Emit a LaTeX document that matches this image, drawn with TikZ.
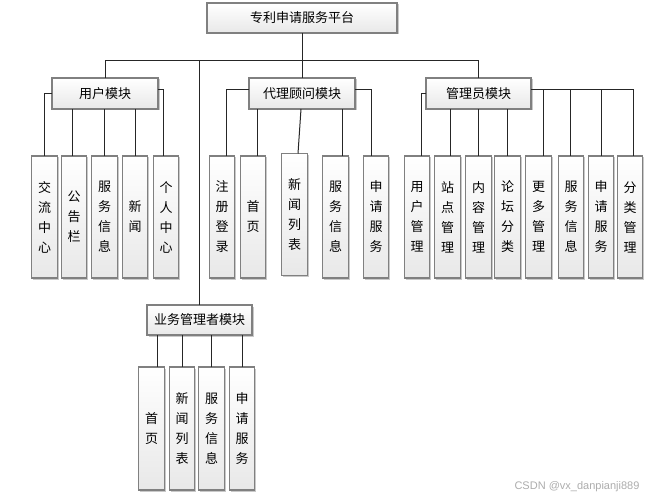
\documentclass[tikz,border=0pt]{standalone}
\usepackage{fontspec}
\newfontfamily\cjk{Noto Sans CJK SC}
\setsansfont{Liberation Sans}
\usetikzlibrary{shadows}
\begin{document}
\begin{tikzpicture}[x=1pt,y=-1pt,
  box/.style={draw=black!50, line width=1.2pt, top color=white, bottom color=black!9,
    drop shadow={shadow xshift=1.5pt,shadow yshift=-1.5pt,opacity=0.35,fill=black!60},
    inner sep=0pt, outer sep=0pt},
  hbox/.style={box, minimum width=#1, minimum height=31pt, font=\cjk\fontsize{13}{15}\selectfont},
  vbox/.style={box, minimum width=25.5pt, minimum height=122pt, align=center,
    font=\cjk\fontsize{13}{20}\selectfont},
  link/.style={draw=black!85, line width=1pt}]
\useasboundingbox[fill=white] (0,0) rectangle (656,500);

% parents
\node[hbox=190pt, minimum height=30pt] (top) at (302,18) {专利申请服务平台};
\node[hbox=106pt] (u) at (105,93.5) {用户模块};
\node[hbox=106pt] (a) at (302,93.5) {代理顾问模块};
\node[hbox=105pt] (m) at (478.5,93.5) {管理员模块};
\node[hbox=105pt, minimum height=30pt] (b) at (199.5,320) {业务管理者模块};

% user children
\node[vbox] (u1) at (44.5,217) {交\\流\\中\\心};
\node[vbox] (u2) at (74,217) {公\\告\\栏};
\node[vbox] (u3) at (104.5,217) {服\\务\\信\\息};
\node[vbox] (u4) at (135,217) {新\\闻};
\node[vbox] (u5) at (166,217) {个\\人\\中\\心};

% agent children
\node[vbox] (a1) at (222,217) {注\\册\\登\\录};
\node[vbox] (a2) at (253,217) {首\\页};
\node[vbox] (a3) at (294.5,214.5) {新\\闻\\列\\表};
\node[vbox] (a4) at (335.5,217) {服\\务\\信\\息};
\node[vbox] (a5) at (376,217) {申\\请\\服\\务};

% admin children
\node[vbox] (m1) at (417,217) {用\\户\\管\\理};
\node[vbox] (m2) at (447.5,217) {站\\点\\管\\理};
\node[vbox] (m3) at (478.5,217) {内\\容\\管\\理};
\node[vbox] (m4) at (507.5,217) {论\\坛\\分\\类};
\node[vbox] (m5) at (538.5,217) {更\\多\\管\\理};
\node[vbox] (m6) at (571,217) {服\\务\\信\\息};
\node[vbox] (m7) at (601,217) {申\\请\\服\\务};
\node[vbox] (m8) at (630,217) {分\\类\\管\\理};

% business children
\node[vbox, minimum height=123pt] (b1) at (151.5,428.5) {首\\页};
\node[vbox, minimum height=123pt] (b2) at (182,428.5) {新\\闻\\列\\表};
\node[vbox, minimum height=123pt] (b3) at (211.5,428.5) {服\\务\\信\\息};
\node[vbox, minimum height=123pt] (b4) at (242,428.5) {申\\请\\服\\务};

% watermark
\node[font=\sffamily\fontsize{11}{13}\selectfont, text=black!32] (wm) at (577,487) {CSDN @vx\_danpianji889};

% bus
\coordinate (bus) at (0,61);
\draw[link] (top.south) -- (a.north);
\draw[link] (u.north) -- (u.north |- bus) -- (m.north |- bus) -- (m.north);
\draw[link] (b.north) -- (b.north |- bus);

% user links
\draw[link] (u.west) -| (u1.north);
\draw[link] ([xshift=-2pt]u2.north) -- ([xshift=-2pt]u2.north |- u.south);
\draw[link] (u3.north) -- (u3.north |- u.south);
\draw[link] (u4.north) -- (u4.north |- u.south);
\draw[link] ([yshift=4pt]u.east) -| ([xshift=-3pt]u5.north);

% agent links
\draw[link] ([yshift=4pt]a.west) -| ([xshift=4pt]a1.north);
\draw[link] ([xshift=4pt]a2.north) -- ([xshift=4pt]a2.north |- a.south);
\draw[link] ([xshift=-1pt]a.south) -- ([xshift=3.5pt]a3.north);
\draw[link] ([xshift=6.5pt]a4.north) -- ([xshift=6.5pt]a4.north |- a.south);
\draw[link] ([yshift=4pt]a.east) -| ([xshift=-5pt]a5.north);

% admin links
\draw[link] (m.west) -| ([xshift=4pt]m1.north);
\draw[link] ([xshift=2.5pt]m2.north) -- ([xshift=2.5pt]m2.north |- m.south);
\draw[link] (m3.north) -- (m3.north |- m.south);
\draw[link] (m4.north) -- (m4.north |- m.south);
\coordinate (mr) at ([yshift=4pt]m.east);
\draw[link] (mr) -| ([xshift=3pt]m8.north);
\draw[link] ([xshift=4.5pt]m5.north) -- ([xshift=4.5pt]m5.north |- mr);
\draw[link] ([xshift=-1pt]m6.north) -- ([xshift=-1pt]m6.north |- mr);
\draw[link] (m7.north) -- (m7.north |- mr);

% business links
\draw[link] ([xshift=5.5pt]b1.north) -- ([xshift=5.5pt]b1.north |- b.south);
\draw[link] (b2.north) -- (b2.north |- b.south);
\draw[link] (b3.north) -- (b3.north |- b.south);
\draw[link] (b4.north) -- (b4.north |- b.south);
\end{tikzpicture}
\end{document}
